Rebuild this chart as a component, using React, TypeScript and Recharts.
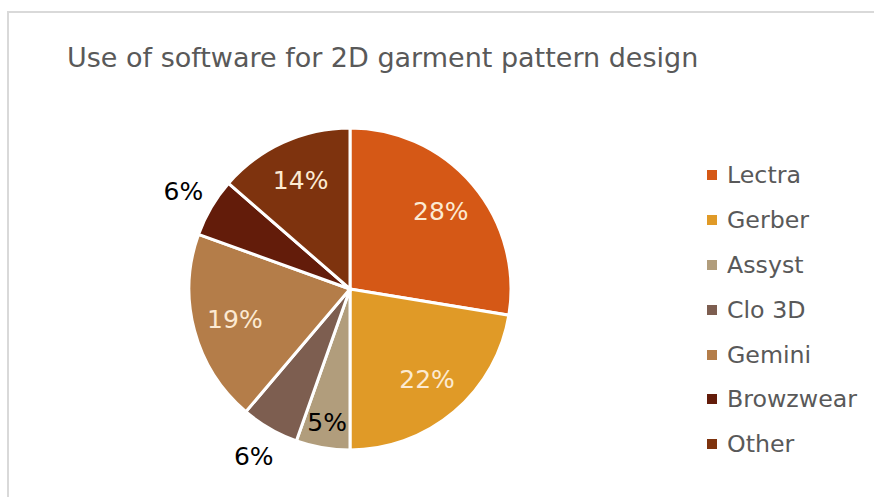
import { Cell, Legend, Pie, PieChart } from 'recharts';

const software = ['Lectra', 'Gerber', 'Assyst', 'Clo 3D', 'Gemini', 'Browzwear', 'Other'];
const share = [27.6, 22.4, 5.4, 5.8, 19.3, 5.9, 13.6];

const sliceColors = ['#D55816', '#E09A27', '#B19D7C', '#7D5E50', '#B47D49', '#631C0A', '#7E330E'];
// where Excel's "best fit" put each label
const labelSpot = ['in', 'in', 'edge', 'out', 'in', 'out', 'in'];

const data = software.map((name, i) => ({ name, value: share[i] }));

const FONT = '"DejaVu Sans", Verdana, sans-serif';
const RAD = Math.PI / 180;

function SliceLabel(props: any) {
  const { cx, cy, midAngle, outerRadius, percent, index } = props;
  const spot = labelSpot[index];
  const r = spot === 'in' ? outerRadius * 0.74 : spot === 'edge' ? outerRadius * 0.84 : outerRadius * 1.2;
  const x = cx + r * Math.cos(-midAngle * RAD);
  const y = cy + r * Math.sin(-midAngle * RAD);
  return (
    <text
      x={x}
      y={y}
      textAnchor="middle"
      dominantBaseline="central"
      fontFamily={FONT}
      fontSize={25}
      fill={spot === 'in' ? '#FCEAD2' : '#000000'}
    >
      {Math.round(percent * 100)}%
    </text>
  );
}

function LegendList() {
  return (
    <div style={{ fontFamily: FONT, fontSize: 23.7, color: '#595959' }}>
      {data.map((d, i) => (
        <div key={d.name} style={{ display: 'flex', alignItems: 'center', height: 44.8 }}>
          <span style={{ width: 10, height: 10, background: sliceColors[i], marginRight: 10 }} />
          <span>{d.name}</span>
        </div>
      ))}
    </div>
  );
}

export default function App() {
  return (
    <div style={{ position: 'fixed', left: 0, top: 0, width: 874, height: 497, overflow: 'hidden', background: '#fff' }}>
      <div
        style={{
          position: 'absolute',
          left: 7,
          top: 11,
          width: 900,
          height: 520,
          border: '2px solid #D9D9D9',
        }}
      />
      <div
        style={{
          position: 'absolute',
          left: 67,
          top: 42,
          fontFamily: FONT,
          fontSize: 27,
          color: '#595959',
          whiteSpace: 'nowrap',
        }}
      >
        Use of software for 2D garment pattern design
      </div>
      <div style={{ position: 'absolute', left: 0, top: 0 }}>
        <PieChart width={874} height={497} margin={{ top: 0, right: 0, bottom: 0, left: 0 }}>
          <Pie
            data={data}
            dataKey="value"
            nameKey="name"
            cx={350}
            cy={289}
            outerRadius={161}
            startAngle={90}
            endAngle={-270}
            stroke="#FFFFFF"
            strokeWidth={3}
            label={SliceLabel}
            labelLine={false}
            isAnimationActive={false}
          >
            {data.map((d, i) => (
              <Cell key={d.name} fill={sliceColors[i]} />
            ))}
          </Pie>
          <Legend
            layout="vertical"
            content={LegendList}
            wrapperStyle={{ position: 'absolute', left: 707, top: 153, width: 170 }}
          />
        </PieChart>
      </div>
    </div>
  );
}
